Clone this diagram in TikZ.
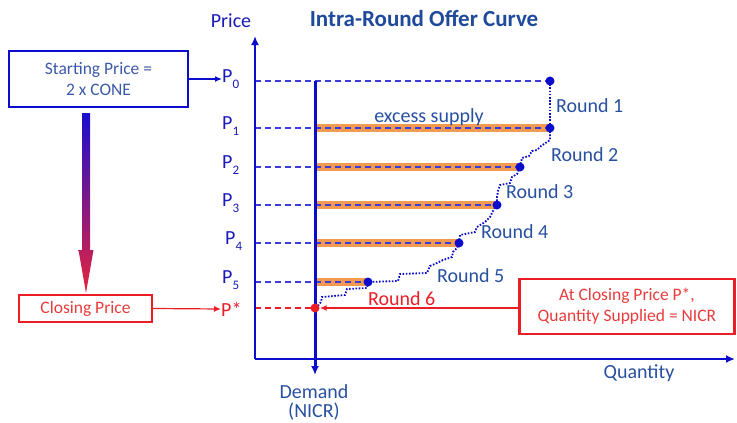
\documentclass[tikz,border=0pt]{standalone}
\usepackage{fontspec}
\setmainfont{Carlito}
\usetikzlibrary{arrows.meta}
\definecolor{axisblue}{RGB}{12,12,205}
\definecolor{dashblue}{RGB}{60,60,220}
\definecolor{lblblue}{RGB}{26,26,185}
\definecolor{titleblue}{RGB}{31,73,155}
\definecolor{roundblue}{RGB}{40,80,160}
\definecolor{boxtext}{RGB}{60,90,170}
\definecolor{barorange}{RGB}{242,155,80}
\definecolor{myred}{RGB}{235,30,40}
\definecolor{redtext}{RGB}{232,60,60}
\newcommand{\Psub}[1]{P\raisebox{-6pt}{\fontsize{13}{13}\selectfont #1}}
\begin{document}
\begin{tikzpicture}[x=1pt,y=-1pt,
  big/.style={font=\fontsize{20}{22}\selectfont, inner sep=0pt},
  boxfont/.style={font=\fontsize{17.5}{21}\selectfont},
  plab/.style={big, text=lblblue, anchor=west},
  rlab/.style={big, text=roundblue, anchor=west},
  axisline/.style={axisblue, line width=2.8pt},
  dashl/.style={dashblue, line width=1.5pt, dash pattern=on 6pt off 4pt},
  bar/.style={barorange, line width=8pt},
  stair/.style={axisblue, line width=1.8pt, dash pattern=on 1.6pt off 1.6pt},
  dot/.style={circle, fill=axisblue, inner sep=0pt, minimum size=9pt},
  reddot/.style={circle, fill=myred, inner sep=0pt, minimum size=9pt},
  tip/.style={-{Latex[length=9pt,width=8pt]}}
]
\useasboundingbox (0,0) rectangle (737,423);

% coordinates
\coordinate (origin) at (255,359);
\coordinate (ytop) at (255,36);
\coordinate (xend) at (735,359);
\coordinate (dtop) at (315,81);
\coordinate (dbot) at (315,375);
\foreach \n/\y in {0/81,1/128,2/167,3/205,4/243,5/282,s/308}
  \coordinate (a\n) at (255,\y);
\foreach \n/\y in {1/128,2/167,3/205,4/243,5/282,s/308}
  \coordinate (d\n) at (315,\y);
\coordinate (e0) at (550,81);
\coordinate (e1) at (550,128);
\coordinate (e2) at (520,167);
\coordinate (e3) at (497,205);
\coordinate (e4) at (459,243);
\coordinate (e5) at (368,282);

% title and axis labels
\node[font=\fontsize{23}{25}\selectfont\bfseries, text=titleblue] (title) at (424,19) {Intra-Round Offer Curve};
\node[big, text=lblblue] (price) at (231,21) {Price};
\node[big, text=roundblue] (qty) at (639,373) {Quantity};
\node[big, text=roundblue, align=center, font=\fontsize{20}{20}\selectfont] (dem) at (314,402) {Demand\\[-1pt](NICR)};

% orange bars
\foreach \n in {1,2,3,4,5} \draw[bar] (d\n) -- (e\n);

% dashed levels
\foreach \n in {0,1,2,3,4,5} \draw[dashl] (a\n) -- (e\n);
\draw[dashl, myred] (as) -- (ds);

% axes
\draw[axisline, tip] (origin) -- (ytop);
\draw[axisline, tip] (origin) -- (xend);
\draw[axisline, line width=3pt, tip] (dtop) -- (dbot);

% staircase
\draw[stair] (e0) -- (e1);
\draw[stair] (e1) -- (550,140) -- (541,146) -- (537,150) -- (532,151) -- (529,156) -- (522,158) -- (e2);
\draw[stair] (e2) -- (517,174) -- (512,177) -- (510,183) -- (500,185) -- (498,191) -- (497,197) -- (e3);
\draw[stair] (e3) -- (493,211) -- (490,217) -- (485,222) -- (477,227) -- (475,232) -- (460,235) -- (e4);
\draw[stair] (e4) -- (457,248) -- (453,252) -- (452,257) -- (443,260) -- (437,263) -- (430,266) -- (427,273) -- (400,274) -- (398,281) -- (e5);
\draw[stair] (e5) -- (367,288) -- (347,289) -- (345,295) -- (322,297) -- (321,302) -- (317,307);

% dots
\foreach \n in {0,1,2,3,4,5} \node[dot] at (e\n) {};
\node[reddot] (pstar) at (ds) {};

% round labels
\node[rlab] (r1) at (556,106) {Round 1};
\node[rlab] (r2) at (551,155) {Round 2};
\node[rlab] (r3) at (506,192) {Round 3};
\node[rlab] (r4) at (481,232) {Round 4};
\node[rlab] (r5) at (437,276) {Round 5};
\node[big, text=myred, anchor=west] (r6) at (368,299) {Round 6};
\node[big, text=roundblue] (xs) at (429,117) {excess supply};

% P labels
\node[plab] (p0) at (222,79) {\Psub{0}};
\node[plab] (p1) at (222,126) {\Psub{1}};
\node[plab] (p2) at (222,165) {\Psub{2}};
\node[plab] (p3) at (222,203) {\Psub{3}};
\node[plab] (p4) at (225,241) {\Psub{4}};
\node[plab] (p5) at (222,280) {\Psub{5}};
\node[big, text=myred, anchor=west] (ps) at (221,309) {P*};

% boxes
\node[draw=axisblue, line width=2.2pt, boxfont, text=boxtext, align=center,
      minimum width=179pt, minimum height=56pt, inner sep=0pt] (start) at (98.5,79) {Starting Price =\\2 x CONE};
\node[draw=myred, line width=2.4pt, boxfont, text=redtext,
      minimum width=133pt, minimum height=27pt, inner sep=0pt] (close) at (85.5,308.5) {Closing Price};
\node[draw=myred, line width=2.4pt, boxfont, text=redtext, align=center,
      minimum width=215pt, minimum height=55pt, inner sep=0pt] (atclose) at (627,306.5) {At Closing Price P*,\\Quantity Supplied = NICR};

% connectors
\draw[axisblue, line width=1.2pt, -{Latex[length=7pt,width=6pt]}] (start.east |- p0) -- (p0.west);
\draw[myred, line width=1.2pt, -{Latex[length=7pt,width=6pt]}] (close.east) -- (ps.west);
\draw[myred, line width=1.6pt, -{Latex[length=7pt,width=6pt]}] (atclose.west |- pstar) -- (pstar.east);

% gradient arrow
\shade[top color={rgb,255:red,25;green,15;blue,205}, bottom color={rgb,255:red,232;green,35;blue,60}]
  (82,113) -- (90,113) -- (90,250) -- (93.5,250) -- (86,293) -- (78.5,250) -- (82,250) -- cycle;
\end{tikzpicture}
\end{document}
